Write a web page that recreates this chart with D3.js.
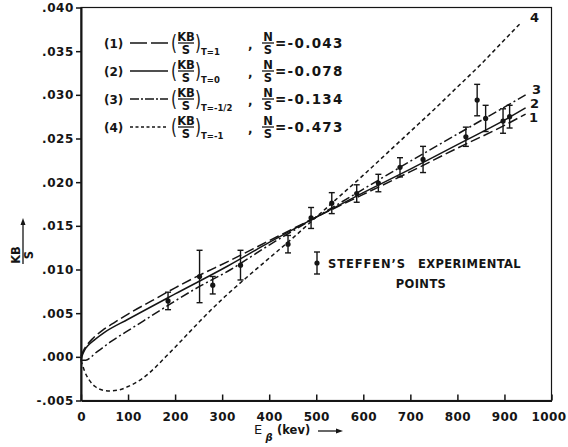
<!DOCTYPE html>
<html>
<head>
<meta charset="utf-8">
<script src="https://cdn.jsdelivr.net/npm/d3@7"></script>
<style>
  body { margin: 0; background: #fff; }
  text { font-family: "DejaVu Sans", sans-serif; font-weight: bold; fill: #151515; }
</style>
</head>
<body>
<svg id="chart" width="568" height="447"></svg>
<script>
// theoretical curves, KB/S against beta energy (kev)
const energy1 = [0, 5, 12, 25, 45, 70, 100, 150, 200, 250, 312, 400, 500, 600, 700, 800, 900, 945];
const kbs1 = [0.0001, 0.0007, 0.0013, 0.0021, 0.0030, 0.0039, 0.0049, 0.0064, 0.0079, 0.0093, 0.0109, 0.0133, 0.0160, 0.0186, 0.0212, 0.0239, 0.0265, 0.0278];

const energy2 = [0, 3, 8, 15, 30, 50, 100, 200, 312, 400, 500, 600, 700, 800, 900, 945];
const kbs2 = [-0.0004, 0.0002, 0.0008, 0.0013, 0.0020, 0.0028, 0.0043, 0.0072, 0.0104, 0.0131, 0.0160, 0.0188, 0.0215, 0.0243, 0.0271, 0.0285];

const energy3 = [0, 10, 20, 30, 45, 65, 100, 150, 200, 250, 312, 400, 500, 600, 700, 800, 900, 945];
const kbs3 = [-0.0004, -0.0004, -0.0001, 0.0004, 0.0010, 0.0018, 0.0030, 0.0047, 0.0064, 0.0080, 0.0098, 0.0128, 0.0160, 0.0192, 0.0224, 0.0255, 0.0286, 0.0300];

const energy4 = [0, 8, 18, 30, 45, 61, 80, 100, 130, 160, 180, 200, 230, 253, 306, 350, 400, 450, 500, 550, 600, 650, 700, 750, 800, 850, 900, 936];
const kbs4 = [-0.0004, -0.0017, -0.0027, -0.0034, -0.0038, -0.0039, -0.0038, -0.0034, -0.0025, -0.0011, 0.0000, 0.0011, 0.0028, 0.0041, 0.0069, 0.0090, 0.0113, 0.0136, 0.0160, 0.0184, 0.0208, 0.0233, 0.0258, 0.0283, 0.0309, 0.0335, 0.0363, 0.0383];

// Steffen's experimental points
const expEnergy = [185, 252, 280, 339, 440, 489, 533, 586, 632, 678, 727, 818, 842, 860, 897, 911];
const expKbs = [0.0064, 0.0092, 0.0082, 0.0105, 0.0129, 0.0159, 0.0176, 0.0187, 0.0199, 0.0217, 0.0226, 0.0252, 0.0294, 0.0273, 0.0270, 0.0275];
const expErr = [0.0010, 0.0030, 0.0010, 0.0017, 0.0010, 0.0012, 0.0012, 0.0010, 0.0010, 0.0011, 0.0015, 0.0011, 0.0018, 0.0015, 0.0014, 0.0013];

const xTicks = [0, 100, 200, 300, 400, 500, 600, 700, 800, 900, 1000];
const yTicks = [-0.005, 0.000, 0.005, 0.010, 0.015, 0.020, 0.025, 0.030, 0.035, 0.040];
const yTickLabels = ['-.005', '.000', '.005', '.010', '.015', '.020', '.025', '.030', '.035', '.040'];

const curveLabels = ['1', '2', '3', '4'];
const legendRows = ['(1)', '(2)', '(3)', '(4)'];
const legendSubs = ['T=1', 'T=0', 'T=-1/2', 'T=-1'];
const legendNS = ['=-0.043', '=-0.078', '=-0.134', '=-0.473'];

const curves = [
  { x: energy1, y: kbs1, dash: '10,4', legendDash: '17,4' },
  { x: energy2, y: kbs2, dash: null, legendDash: null },
  { x: energy3, y: kbs3, dash: '9,3,2,3', legendDash: '9,2,2,2' },
  { x: energy4, y: kbs4, dash: '4,3', legendDash: '3,2.5' }
];

const svg = d3.select('#chart');
const plotLeft = 81, plotRight = 551.5, plotTop = 7.5, plotBottom = 400.5;

const x = d3.scaleLinear().domain([0, 1000]).range([plotLeft, plotRight]);
const y = d3.scaleLinear().domain([-0.005, 0.040]).range([plotBottom, plotTop]);

const ink = '#151515';

// frame
svg.append('rect')
  .attr('x', plotLeft).attr('y', plotTop)
  .attr('width', plotRight - plotLeft).attr('height', plotBottom - plotTop)
  .attr('fill', 'none').attr('stroke', ink).attr('stroke-width', 1.2);

// x axis, ticks pointing in
const xAxis = svg.append('g')
  .attr('transform', `translate(0,${plotBottom})`)
  .call(d3.axisBottom(x).tickValues(xTicks).tickSizeInner(-6).tickSizeOuter(0).tickPadding(12).tickFormat(d3.format('d')));
xAxis.select('.domain').attr('stroke', ink).attr('stroke-width', 2);
xAxis.selectAll('.tick line').attr('stroke', ink).attr('stroke-width', 1.5);
xAxis.selectAll('.tick text')
  .style('font-size', '12px').style('letter-spacing', '0.4px')
  .attr('fill', ink)
  .attr('dx', d => d === 1000 ? -3 : 0);

// y axis, ticks pointing out
const yAxis = svg.append('g')
  .attr('transform', `translate(${plotLeft},0)`)
  .call(d3.axisLeft(y).tickValues(yTicks).tickSizeInner(5).tickSizeOuter(0).tickPadding(2)
    .tickFormat((d, i) => yTickLabels[i]));
yAxis.select('.domain').attr('stroke', ink).attr('stroke-width', 2);
yAxis.selectAll('.tick line').attr('stroke', ink).attr('stroke-width', 1.5);
yAxis.selectAll('.tick text')
  .style('font-size', '12px').style('letter-spacing', '0.6px')
  .attr('fill', ink);

// curves
const line = d3.line()
  .x(d => x(d[0]))
  .y(d => y(d[1]))
  .curve(d3.curveMonotoneX);

curves.forEach(c => {
  svg.append('path')
    .datum(d3.zip(c.x, c.y))
    .attr('d', line)
    .attr('fill', 'none')
    .attr('stroke', ink)
    .attr('stroke-width', 1.5)
    .attr('stroke-dasharray', c.dash);
});

// curve numbers at the right end
const labelPos = [[529, 122], [530, 108], [532, 94], [530, 22]];
curveLabels.forEach((t, i) => {
  svg.append('text')
    .attr('x', labelPos[i][0]).attr('y', labelPos[i][1])
    .style('font-size', '13px')
    .text(t);
});

// experimental points with error bars
function errorBar(g, cx, cy, yHi, yLo) {
  g.append('line').attr('x1', cx).attr('x2', cx).attr('y1', yHi).attr('y2', yLo)
    .attr('stroke', ink).attr('stroke-width', 1.4);
  [yHi, yLo].forEach(v => {
    g.append('line').attr('x1', cx - 3).attr('x2', cx + 3).attr('y1', v).attr('y2', v)
      .attr('stroke', ink).attr('stroke-width', 1.4);
  });
  g.append('circle').attr('cx', cx).attr('cy', cy).attr('r', 2.6).attr('fill', ink);
}

const pts = svg.append('g');
expEnergy.forEach((e, i) => {
  errorBar(pts, x(e), y(expKbs[i]), y(expKbs[i] + expErr[i]), y(expKbs[i] - expErr[i]));
});

// legend for experimental points
errorBar(svg.append('g'), 317, 263, 252, 274);
svg.append('text').attr('x', 328).attr('y', 268).style('font-size', '11.5px').style('letter-spacing', '0.9px')
  .text('STEFFEN\u2019S');
svg.append('text').attr('x', 418).attr('y', 268).style('font-size', '11.5px').style('letter-spacing', '0.4px')
  .text('EXPERIMENTAL');
svg.append('text').attr('x', 421).attr('y', 288).attr('text-anchor', 'middle').style('font-size', '11.5px').style('letter-spacing', '0.4px')
  .text('POINTS');

// legend for curves
const legend = svg.append('g');
legendRows.forEach((r, i) => {
  const cy = 43 + i * 28;
  const g = legend.append('g').attr('transform', `translate(0,${cy})`);
  g.append('text').attr('x', 104).attr('y', 4.5).style('font-size', '12px').text(r);
  g.append('line').attr('x1', 130).attr('x2', 168).attr('y1', 0).attr('y2', 0)
    .attr('stroke', ink).attr('stroke-width', 1.5)
    .attr('stroke-dasharray', curves[i].legendDash);
  // (KB/S)
  g.append('text').attr('x', 171).attr('y', 7).style('font-size', '22px').style('font-weight', 'normal')
    .attr('transform', 'translate(171,0) scale(0.7,1) translate(-171,0)').text('(');
  g.append('text').attr('x', 186).attr('y', -2).attr('text-anchor', 'middle').style('font-size', '11.5px').text('KB');
  g.append('line').attr('x1', 178).attr('x2', 194).attr('y1', 0).attr('y2', 0).attr('stroke', ink).attr('stroke-width', 1.3);
  g.append('text').attr('x', 186).attr('y', 11).attr('text-anchor', 'middle').style('font-size', '11.5px').text('S');
  g.append('text').attr('x', 195).attr('y', 7).style('font-size', '22px').style('font-weight', 'normal')
    .attr('transform', 'translate(195,0) scale(0.7,1) translate(-195,0)').text(')');
  g.append('text').attr('x', 201).attr('y', 12).style('font-size', '8.5px').text(legendSubs[i]);
  // , N/S = value
  g.append('text').attr('x', 248).attr('y', 6).style('font-size', '12px').text(',');
  g.append('text').attr('x', 268).attr('y', -2).attr('text-anchor', 'middle').style('font-size', '11.5px').text('N');
  g.append('line').attr('x1', 262).attr('x2', 274).attr('y1', 0).attr('y2', 0).attr('stroke', ink).attr('stroke-width', 1.3);
  g.append('text').attr('x', 268).attr('y', 11).attr('text-anchor', 'middle').style('font-size', '11.5px').text('S');
  g.append('text').attr('x', 275).attr('y', 5).style('font-size', '13.5px').style('letter-spacing', '1.3px').text(legendNS[i]);
});

// y-axis title: KB/S with arrow, rotated
const yt = svg.append('g').attr('transform', 'translate(23,255) rotate(-90)');
yt.append('text').attr('x', 0).attr('y', -3).attr('text-anchor', 'middle').style('font-size', '11.5px').text('KB');
yt.append('line').attr('x1', -9).attr('x2', 8).attr('y1', 0).attr('y2', 0).attr('stroke', ink).attr('stroke-width', 1.3);
yt.append('text').attr('x', 0).attr('y', 10).attr('text-anchor', 'middle').style('font-size', '11.5px').text('S');
yt.append('line').attr('x1', 8).attr('x2', 33).attr('y1', 0).attr('y2', 0).attr('stroke', ink).attr('stroke-width', 1.3);
yt.append('path').attr('d', 'M 37 0 L 30 -2.5 L 30 2.5 Z').attr('fill', ink);

// x-axis title: E_beta (kev) ->
const xt = svg.append('g');
xt.append('text').attr('x', 254).attr('y', 434).style('font-size', '13px').style('font-weight', 'normal').text('E');
xt.append('text').attr('x', 265.5).attr('y', 441).style('font-size', '10px').style('font-style', 'italic').text('\u03B2');
xt.append('text').attr('x', 277).attr('y', 434).style('font-size', '11.5px').text('(kev)');
xt.append('line').attr('x1', 318).attr('x2', 337).attr('y1', 431).attr('y2', 431).attr('stroke', ink).attr('stroke-width', 1.3);
xt.append('path').attr('d', 'M 343 431 L 336 428.5 L 336 433.5 Z').attr('fill', ink);
</script>
</body>
</html>
